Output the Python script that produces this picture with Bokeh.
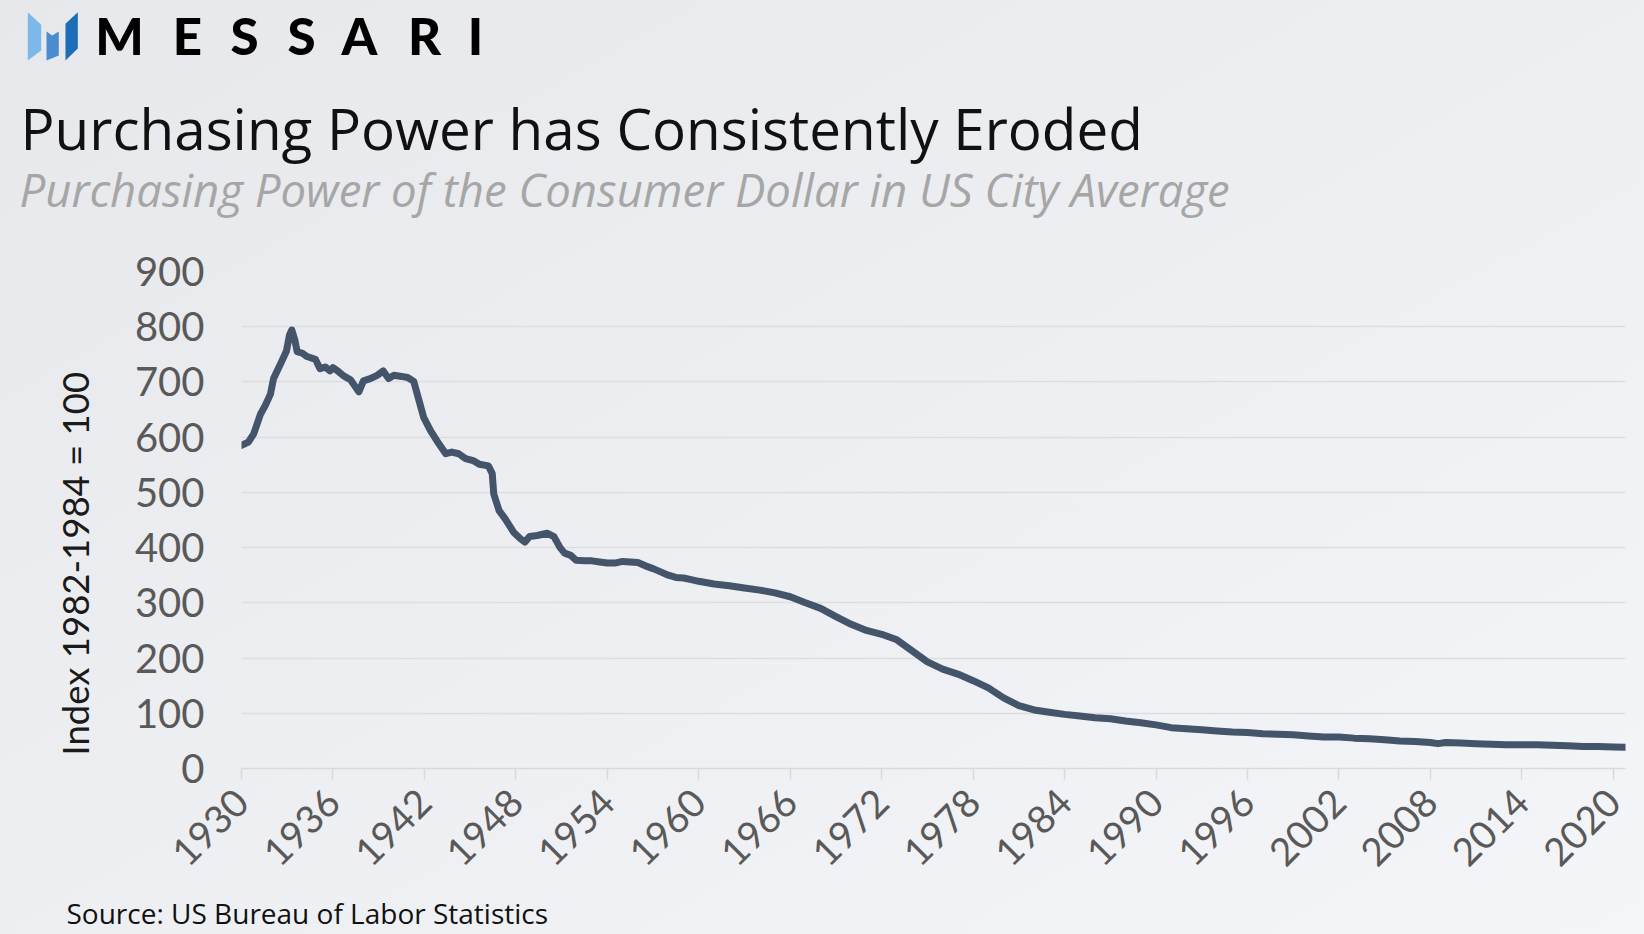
from math import pi
from bokeh.plotting import figure
from bokeh.layouts import column, row
from bokeh.models import Label, FixedTicker, Range1d, PolyAnnotation, GlobalInlineStyleSheet
from bokeh.embed import file_html
from bokeh.resources import INLINE

# ---------------- data ----------------
years = [1930.00, 1930.45, 1930.80, 1931.25, 1931.55, 1931.90, 1932.10, 1932.55, 1932.95,
         1933.15, 1933.30, 1933.50, 1933.65, 1934.00, 1934.30, 1934.85, 1935.15, 1935.50,
         1935.80, 1936.00, 1936.35, 1936.70, 1937.15, 1937.70, 1938.00, 1938.45, 1938.90,
         1939.30, 1939.65, 1940.00, 1940.50, 1940.90, 1941.30, 1941.65, 1941.95, 1942.40,
         1942.95, 1943.40, 1943.80, 1944.25, 1944.70, 1945.25, 1945.60, 1946.20, 1946.45,
         1946.55, 1946.90, 1947.30, 1947.85, 1948.30, 1948.60, 1948.90, 1949.40, 1950.05,
         1950.50, 1950.90, 1951.20, 1951.60, 1951.95, 1952.50, 1953.00, 1953.50, 1954.00,
         1954.50, 1955.00, 1955.50, 1956.00, 1956.50, 1957.00, 1957.50, 1958.00, 1958.50,
         1959.00, 1959.50, 1960.00, 1961.0, 1962.0, 1963.0, 1964.0, 1965.0, 1966.0, 1967.0,
         1968.0, 1969.0, 1970.0, 1971.0, 1972.0, 1973.0, 1974.0, 1975.0, 1976.0, 1977.0,
         1978.0, 1979.0, 1980.0, 1981.0, 1982.0, 1983.0, 1984.0, 1985.0, 1986.0, 1987.0,
         1988.0, 1989.0, 1990.0, 1991.0, 1992.0, 1993.0, 1994.0, 1995.0, 1996.0, 1997.0,
         1998.0, 1999.0, 2000.0, 2001.0, 2002.0, 2003.0, 2004.0, 2005.0, 2006.0, 2007.0,
         2008.0, 2008.5, 2009.0, 2010.0, 2011.0, 2012.0, 2013.0, 2014.0, 2015.0, 2016.0,
         2017.0, 2018.0, 2019.0, 2020.0, 2020.8]
power = [585, 591, 606, 642, 657, 678, 706, 732, 756,
         785, 794, 776, 755, 752, 746, 741, 724, 727,
         720, 726, 719, 711, 704, 682, 702, 706, 712,
         720, 706, 712, 710, 708, 701, 666, 636, 612,
         588, 570, 573, 570, 561, 557, 551, 548, 534,
         497, 467, 452, 428, 416, 410, 420, 422, 426,
         420, 400, 390, 386, 377, 376, 376, 374, 372,
         372, 375, 374, 373, 367, 362, 356, 350, 346,
         345, 342, 339, 334, 331, 327, 323, 318, 311, 300,
         290, 275, 261, 250, 243, 233, 213, 193, 180, 171,
         159, 146, 128, 114, 106, 102, 98, 95, 92, 90,
         86, 83, 79, 74, 72, 70, 68, 66, 65, 63,
         62, 61, 59, 57, 57, 55, 54, 52, 50, 49,
         47, 45, 47, 46, 45, 44, 43, 43, 43, 42,
         41, 40, 40, 39, 38.6]

x_ticks = [1930, 1936, 1942, 1948, 1954, 1960, 1966, 1972, 1978, 1984, 1990,
           1996, 2002, 2008, 2014, 2020]
y_ticks = [0, 100, 200, 300, 400, 500, 600, 700, 800, 900]

title_text = "Purchasing Power has Consistently Eroded"
subtitle_text = "Purchasing Power of the Consumer Dollar in US City Average"
source_text = "Source: US Bureau of Labor Statistics"
y_label_text = "Index 1982-1984 = 100"
brand_letters = ["M", "E", "S", "S", "A", "R", "I"]

# ---------------- layout ----------------
FONT = "Lato"
HEAD_FONT = "Open Sans"
BG = "#ECEEF1"
PAGE_W = 1644
HEAD_H = 240          # header strip  (page y 0..240)
FRAME_T, FRAME_B = 271, 768   # plot frame top / bottom on the page
MAIN_H = 652          # chart row     (page y 240..892)
FOOT_H = 41           # footer strip  (page y 892..933)
STRIP_W = 110         # left strip holding the y-axis title
SHIFT = 0.35          # baseline correction (fraction of font size)


def style_fig(f):
    f.background_fill_color = BG
    f.background_fill_alpha = 0
    f.border_fill_color = BG
    f.border_fill_alpha = 0
    f.outline_line_color = None


def blank(width, height, y0=0, y1=None):
    f = figure(width=width, height=height, output_backend="svg", toolbar_location=None,
               x_range=Range1d(0, width),
               y_range=Range1d(height if y1 is None else y1, y0),
               x_axis_location=None, y_axis_location=None, min_border=0)
    style_fig(f)
    f.grid.visible = False
    return f


def text(f, t, x, y, size, color, font=FONT, style="normal", align="left",
         baseline="alphabetic", angle=0):
    f.add_layout(Label(x=x, y=y, text=t, text_font=font, text_font_size=f"{size}px",
                       text_color=color, text_font_style=style, text_align=align,
                       text_baseline=baseline, angle=angle))


# header: logo, title, subtitle
head = blank(PAGE_W, HEAD_H)
brand_centers = [119, 187, 244, 301, 359, 424, 475]
for ch, cx in zip(brand_letters, brand_centers):
    text(head, ch, cx, 54 - 0.38 * 51, 51, "#000000", font="Lato Black, Lato",
         style="bold", align="center")
icon_shapes = [
    ([27.3, 40.7, 40.7, 27.3], [11.7, 24.3, 50, 60], "#7DB9E8"),
    ([46, 51.7, 58.3, 58.3, 46], [31, 35, 31, 55, 60], "#4A8CD0"),
    ([65, 77.3, 77.3, 65], [23.3, 11.7, 48, 60], "#1C6DB8"),
]
for xs, ys, col in icon_shapes:
    head.add_layout(PolyAnnotation(xs=xs, ys=ys, fill_color=col, fill_alpha=1.0,
                                   line_color=None))
text(head, title_text, 20, 148 - SHIFT * 56.6, 56.6, "#111111", font=HEAD_FONT)
text(head, subtitle_text, 19, 204 - SHIFT * 45.5, 45.5, "#A6A6A6", font=HEAD_FONT,
     style="italic")

# left strip: its frame is aligned with the chart frame, so its y range
# is expressed in page pixels (FRAME_T..FRAME_B)
strip = blank(STRIP_W, MAIN_H, y0=FRAME_T, y1=FRAME_B)
text(strip, y_label_text, 74, 755, 36.5, "#1A1A1A",
     align="left", baseline="middle", angle=pi / 2)

# main chart
p = figure(width=PAGE_W - STRIP_W, height=MAIN_H, output_backend="svg",
           toolbar_location=None,
           x_range=Range1d(1930, 2020.8), y_range=Range1d(0, 900),
           min_border_left=241 - STRIP_W, min_border_right=PAGE_W - 1625,
           min_border_top=FRAME_T - HEAD_H, min_border_bottom=HEAD_H + MAIN_H - FRAME_B)
style_fig(p)

p.line(years, power, line_color="#44546A", line_width=7,
       line_join="round", line_cap="round")

p.xaxis.ticker = FixedTicker(ticks=x_ticks)
p.xaxis.minor_tick_line_color = None
p.xaxis.axis_line_color = "#D9D9D9"
p.xaxis.axis_line_width = 1.5
p.xaxis.major_tick_line_color = "#D9D9D9"
p.xaxis.major_tick_line_width = 1.5
p.xaxis.major_tick_in = 0
p.xaxis.major_tick_out = 11
p.xaxis.major_label_orientation = pi / 4
p.xaxis.major_label_standoff = 16
p.xaxis.major_label_text_font = FONT
p.xaxis.major_label_text_font_size = "38.5px"
p.xaxis.major_label_text_color = "#595959"

p.yaxis.ticker = FixedTicker(ticks=y_ticks)
p.yaxis.minor_tick_line_color = None
p.yaxis.axis_line_color = None
p.yaxis.major_tick_line_color = None
p.yaxis.major_tick_in = 0
p.yaxis.major_tick_out = 0
p.yaxis.major_label_standoff = 37
p.yaxis.major_label_text_font = FONT
p.yaxis.major_label_text_font_size = "40px"
p.yaxis.major_label_text_color = "#595959"

p.xgrid.grid_line_color = None
p.ygrid.grid_line_color = "#DCDDDF"
p.ygrid.grid_line_width = 1.5

# footer: source note
foot = blank(PAGE_W, FOOT_H)
text(foot, source_text, 66, 922.5 - (HEAD_H + MAIN_H) - SHIFT * 28, 28, "#111111",
     font=HEAD_FONT)

page_css = GlobalInlineStyleSheet(css=(
    "html, body { background: linear-gradient(to bottom right, #E6E8EB, #F4F5F8) "
    "fixed !important; }"))
layout = column(head, row(strip, p, spacing=0), foot, spacing=0)
layout.stylesheets = [page_css]
open("out.html", "w").write(file_html(layout, INLINE))
